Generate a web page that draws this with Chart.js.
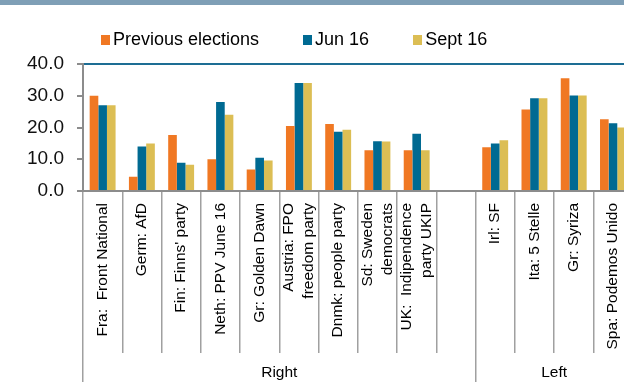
<!DOCTYPE html>
<html>
<head>
<meta charset="utf-8">
<script src="https://cdn.jsdelivr.net/npm/chart.js@4/dist/chart.umd.min.js"></script>
<style>
  html, body { margin: 0; padding: 0; background: #fff; overflow: hidden; width: 624px; height: 382px; }
  #wrap { position: relative; width: 624px; height: 382px; overflow: hidden; }
  #band { position: absolute; left: 0; top: 0; width: 624px; height: 5px; background: #7f9fb6; }
  canvas { position: absolute; left: 0; top: 0; }
  #legend { position: absolute; left: 101px; top: 29px; display: flex; align-items: center;
            font-family: "Liberation Sans", Arial, sans-serif; font-size: 18px; color: #000; white-space: nowrap; }
  #legend .item { display: flex; align-items: center; margin-right: 44px; }
  #legend .sw { width: 9px; height: 10px; margin-right: 3px; }
</style>
</head>
<body>
<div id="wrap">
  <canvas id="c" width="680" height="382"></canvas>
  <div id="band"></div>
  <div id="legend"></div>
</div>
<script>
// Party labels (multi-line ones as arrays); empty slot separates the two groups
const categories = [
  'Fra:  Front National', 'Germ: AfD', "Fin: Finns' party", 'Neth: PPV June 16',
  'Gr: Golden Dawn', ['Austria: FPO', 'freedom party'], 'Dnmk: people party',
  ['Sd: Sweden', 'democrats'], ['UK:  Indipendence', 'party UKIP'], '',
  'Irl: SF', 'Ita: 5 Stelle', 'Gr: Syriza', 'Spa: Podemos Unido'
];

// Poll / vote shares, %
const previousElections = [30.0, 4.5, 17.6, 10.0, 6.8, 20.5, 21.1, 12.8, 12.8, null, 13.8, 25.7, 35.5, 22.6];
const jun16            = [27.0, 14.0, 8.9, 28.0, 10.5, 34.0, 18.7, 15.7, 18.0, null, 15.0, 29.2, 30.1, 21.3];
const sept16           = [27.0, 15.0, 8.3, 24.0, 9.6, 34.0, 19.3, 15.6, 12.8, null, 16.0, 29.2, 30.1, 20.0];

const seriesNames = ['Previous elections', 'Jun 16', 'Sept 16'];
const yTickLabels = ['0.0', '10.0', '20.0', '30.0', '40.0'];

// Group bands along the category axis: boundaries and label positions (in slot units)
const groupBounds = [-0.5, 9.5, 13.5];
const groupNames = ['Right', 'Left'];
const groupCentres = [4.5, 11.5];

const COLORS = ['#f07823', '#006a92', '#dcbe54'];
const AXIS_GREY = '#8c8c8c';
const SEP_GREY = '#a0a0a0';

Chart.defaults.font.family = '"Liberation Sans", Arial, sans-serif';
Chart.defaults.color = '#000';

// Centre multi-line rotated labels on their slot
const centreMultiLine = {
  id: 'centreMultiLine',
  beforeDraw(chart) {
    const items = chart.scales.x.getLabelItems();
    items.forEach(it => {
      if (Array.isArray(it.label) && it.label.length > 1 && !it._centred) {
        it.options.translation[0] -= (it.label.length - 1) * it.font.lineHeight / 2;
        it._centred = true;
      }
    });
  }
};

const chart = new Chart(document.getElementById('c'), {
  type: 'bar',
  data: {
    labels: categories,
    datasets: [
      { label: seriesNames[0], data: previousElections, backgroundColor: COLORS[0] },
      { label: seriesNames[1], data: jun16, backgroundColor: COLORS[1] },
      { label: seriesNames[2], data: sept16, backgroundColor: COLORS[2] }
    ]
  },
  options: {
    responsive: false,
    animation: false,
    devicePixelRatio: 1,
    layout: { padding: { top: 64, right: 47.4, bottom: 0, left: 0 } },
    datasets: { bar: { categoryPercentage: 0.66, barPercentage: 1.0, borderWidth: 0 } },
    plugins: {
      legend: { display: false },
      tooltip: { enabled: false }
    },
    scales: {
      y: {
        min: 0, max: 40,
        afterFit: s => { s.width = 83; },
        ticks: {
          stepSize: 10, padding: 13, color: '#111',
          font: { size: 19 },
          callback: (v, i) => yTickLabels[i]
        },
        grid: {
          drawOnChartArea: true,
          color: ctx => (ctx.tick && ctx.tick.value === 40) ? '#1d6d94' : 'rgba(0,0,0,0)',
          lineWidth: 2,
          tickLength: 6,
          tickColor: AXIS_GREY,
          tickWidth: 2
        },
        border: { color: AXIS_GREY, width: 2 }
      },
      x: {
        type: 'category',
        offset: true,
        weight: 0,
        afterFit: s => { s.height = 162; },
        grid: {
          offset: true,
          drawOnChartArea: false,
          tickLength: 162,
          color: SEP_GREY,
          lineWidth: 1.5
        },
        border: { color: AXIS_GREY, width: 2 },
        ticks: {
          autoSkip: false, minRotation: 90, maxRotation: 90,
          padding: -150, color: '#000',
          font: { size: 15.5, lineHeight: 1.3 }
        }
      },
      x2: {
        type: 'linear',
        position: 'bottom',
        weight: 1,
        offset: false,
        min: -0.5, max: 13.5,
        afterBuildTicks: s => {
          s.ticks = groupBounds.concat(groupCentres).sort((a, b) => a - b).map(v => ({ value: v }));
        },
        afterFit: s => { s.height = 29; },
        grid: {
          offset: false,
          drawOnChartArea: false,
          tickLength: 29,
          color: ctx => (ctx.tick && groupBounds.includes(ctx.tick.value)) ? SEP_GREY : 'rgba(0,0,0,0)',
          lineWidth: 1.5
        },
        border: { display: false },
        ticks: {
          autoSkip: false, maxRotation: 0, minRotation: 0,
          padding: -18.6, color: '#000',
          font: { size: 15.5, lineHeight: 1.2 },
          callback: v => {
            const k = groupCentres.indexOf(v);
            return k >= 0 ? groupNames[k] : '';
          }
        }
      }
    }
  },
  plugins: [centreMultiLine]
});

// Legend built from the chart's datasets
const legend = document.getElementById('legend');
chart.data.datasets.forEach(ds => {
  const item = document.createElement('div');
  item.className = 'item';
  const sw = document.createElement('span');
  sw.className = 'sw';
  sw.style.background = ds.backgroundColor;
  const tx = document.createElement('span');
  tx.textContent = ds.label;
  item.appendChild(sw);
  item.appendChild(tx);
  legend.appendChild(item);
});
</script>
</body>
</html>
